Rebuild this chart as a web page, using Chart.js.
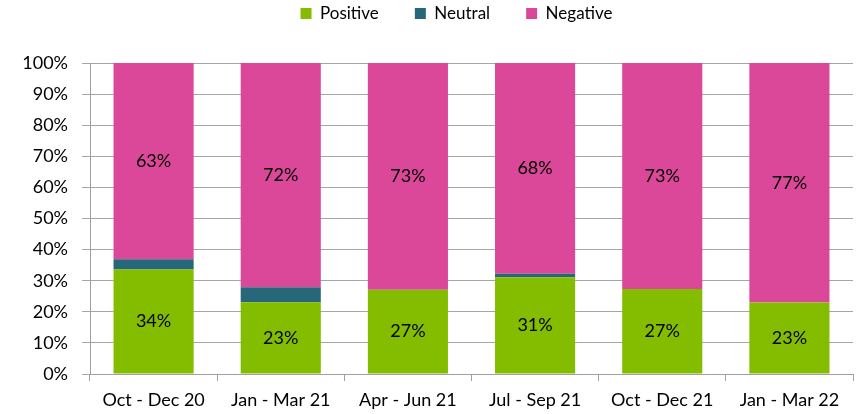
<!DOCTYPE html>
<html>
<head>
<meta charset="utf-8">
<script src="https://cdn.jsdelivr.net/npm/chart.js@4.4.1/dist/chart.umd.min.js"></script>
<style>
  html, body { margin: 0; padding: 0; background: #ffffff; }
  #wrap { width: 856px; height: 414px; position: relative; }
</style>
</head>
<body>
<div id="wrap"><canvas id="c" width="856" height="414"></canvas></div>
<script>
const categories = ["Oct - Dec 20", "Jan - Mar 21", "Apr - Jun 21", "Jul - Sep 21", "Oct - Dec 21", "Jan - Mar 22"];
const positive = [33.6, 23.1, 27.1, 31.1, 27.3, 23.0];
const neutral  = [3.3, 4.8, 0, 1.1, 0, 0];
const negative = [63.1, 72.1, 72.9, 67.8, 72.7, 77.0];
const yTicks = [0, 10, 20, 30, 40, 50, 60, 70, 80, 90, 100];

const FONT = "Lato, 'Open Sans', sans-serif";

const valueLabels = {
  id: 'valueLabels',
  afterDatasetsDraw(chart) {
    const ctx = chart.ctx;
    ctx.save();
    ctx.font = "18px " + FONT;
    ctx.fillStyle = "#000000";
    ctx.textAlign = "center";
    ctx.textBaseline = "middle";
    chart.data.datasets.forEach((ds, di) => {
      if (!ds.showLabels) return;
      const meta = chart.getDatasetMeta(di);
      meta.data.forEach((bar, i) => {
        const v = ds.data[i];
        const y = (bar.y + bar.base) / 2;
        ctx.fillText(Math.round(v) + "%", bar.x, y);
      });
    });
    ctx.restore();
  }
};

const legendShift = {
  id: 'legendShift',
  afterLayout(chart) {
    if (chart.legend) {
      chart.legend.top -= 31;
      chart.legend.left += 30;
      chart.legend.right += 30;
    }
  }
};

new Chart(document.getElementById('c'), {
  type: 'bar',
  data: {
    labels: categories,
    datasets: [
      { label: 'Positive', data: positive, backgroundColor: '#84bd00', showLabels: true },
      { label: 'Neutral', data: neutral, backgroundColor: '#26687a', showLabels: false },
      { label: 'Negative', data: negative, backgroundColor: '#dc4899', showLabels: true }
    ]
  },
  options: {
    responsive: false,
    animation: false,
    maintainAspectRatio: false,
    layout: { padding: { left: 0, right: 3, top: 0, bottom: 0 } },
    datasets: { bar: { categoryPercentage: 1.0, barPercentage: 0.63, borderWidth: 0 } },
    plugins: {
      tooltip: { enabled: false },
      legend: {
        position: 'top',
        labels: {
          font: { family: FONT, size: 17 },
          color: '#000000',
          boxWidth: 11,
          boxHeight: 11,
          padding: 36
        }
      }
    },
    scales: {
      x: {
        stacked: true,
        afterFit(s) { s.height = 40; },
        grid: { display: true, drawOnChartArea: false, drawTicks: true, tickLength: 7, color: '#a0a0a0', offset: true },
        border: { display: true, color: '#a0a0a0', width: 1 },
        ticks: { font: { family: FONT, size: 18 }, color: '#000000', padding: 8, maxRotation: 0 }
      },
      y: {
        stacked: true,
        min: 0,
        max: 100,
        afterFit(s) { s.width = 90; },
        afterBuildTicks(s) { s.ticks = yTicks.map(v => ({ value: v })); },
        grid: { color: '#a6a6a6', lineWidth: 1, tickLength: 8 },
        border: { display: true, color: '#a0a0a0', width: 1 },
        ticks: {
          font: { family: FONT, size: 18 },
          color: '#000000',
          padding: 14,
          callback: v => v + '%'
        }
      }
    }
  },
  plugins: [valueLabels, legendShift]
});
</script>
</body>
</html>
